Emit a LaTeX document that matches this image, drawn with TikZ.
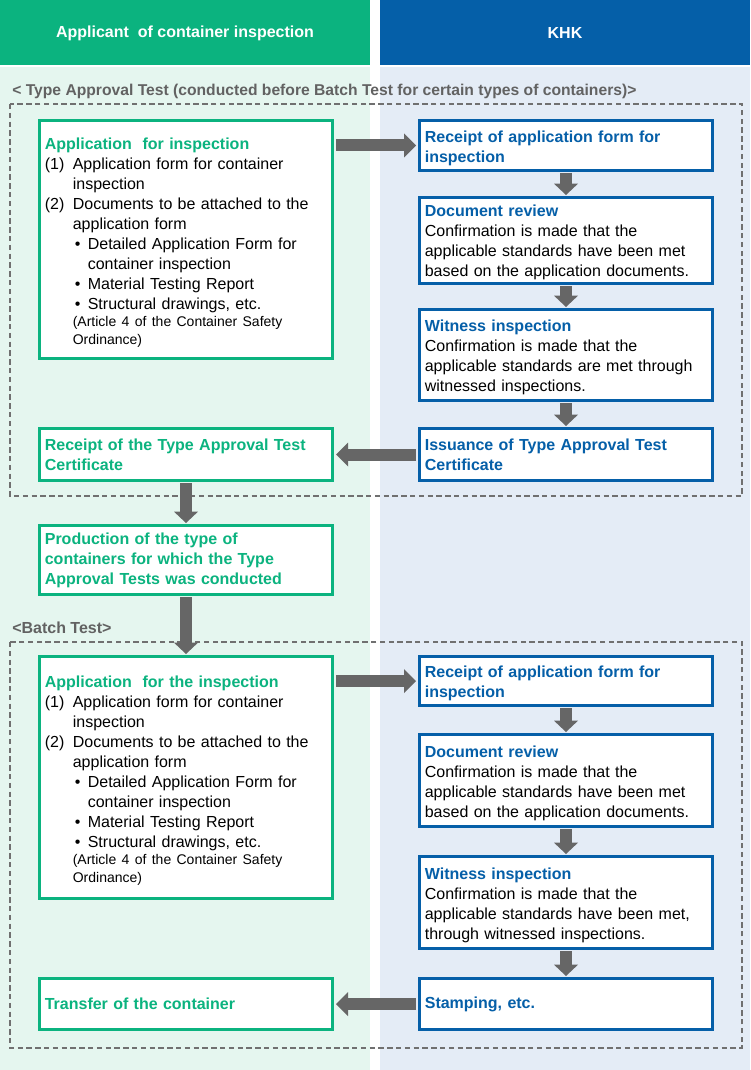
\documentclass[tikz,border=0pt]{standalone}
\usepackage{fontspec}
\setmainfont{Liberation Sans}
\usetikzlibrary{arrows.meta}
\definecolor{hgreen}{HTML}{0BB37F}
\definecolor{hblue}{HTML}{055FA8}
\definecolor{lgreen}{HTML}{E5F6EF}
\definecolor{lblue}{HTML}{E4ECF6}
\definecolor{agray}{HTML}{666666}
\definecolor{dgray}{HTML}{707070}
\definecolor{lgray}{HTML}{626262}
\newcommand\gtitle[1]{{\color{hgreen}\bfseries #1}}
\newcommand\btitle[1]{{\color{hblue}\bfseries #1}}
\newcommand\numitem[1]{\makebox[21pt][l]{#1}}
\newcommand\contind{\hspace*{21pt}}
\newcommand\bulitem{\hspace*{22.5pt}\makebox[9.75pt][l]{\textbullet}}
\newcommand\bulcont{\hspace*{32.25pt}}
\newcommand\applist{%
\numitem{(1)}Application form for container\\
\contind inspection\\
\numitem{(2)}Documents to be attached to the\\
\contind application form\\
\bulitem Detailed Application Form for\\
\bulcont container inspection\\
\bulitem Material Testing Report\\
\bulitem Structural drawings, etc.\par
{\fontsize{10.5}{13}\selectfont\noindent\contind(Article 4 of the Container Safety\\
\contind Ordinance)\par}}
\tikzset{
  box/.style={line width=2.25pt, fill=white, minimum width=219.75pt,
    text width=211.75pt, inner xsep=4pt, inner ysep=0pt, align=left,
    font=\fontsize{12}{15}\selectfont},
  gbox/.style={box, draw=hgreen},
  bbox/.style={box, draw=hblue},
  txtdown/.style={execute at begin node={\rule{0pt}{#1}}},
  blk/.style={draw=agray, line width=9pt,
    -{Triangle[width=18pt,length=9pt,line width=0pt]},
    shorten <=1.5pt, shorten >=1.5pt},
  vblk/.style={draw=agray, line width=9pt,
    -{Triangle[width=18pt,length=8.5pt,line width=0pt]},
    shorten <=0.75pt, shorten >=0.75pt},
  htext/.style={text=white, font=\fontsize{12}{15}\selectfont\bfseries},
  seclabel/.style={text=lgray, anchor=west, inner sep=0pt,
    font=\fontsize{11.75}{15}\selectfont\bfseries},
  dashbox/.style={draw=dgray, line width=1.3pt, dash pattern=on 4pt off 2.6pt}
}
\begin{document}
\begin{tikzpicture}[x=0.75pt,y=-0.75pt]
\useasboundingbox (0,0) rectangle (750,1070);
% column backgrounds
\fill[hgreen] (0,0) rectangle (370,65);
\fill[hblue] (380,0) rectangle (750,65);
\fill[lgreen] (0,67) rectangle (370,1070);
\fill[lblue] (380,67) rectangle (750,1070);
\node[htext] (h1) at (185,33) {Applicant\ \ of container inspection};
\node[htext] (h2) at (565,33) {KHK};
% section frames
\node[seclabel] (s1) at (12,91) {< Type Approval Test (conducted before Batch Test for certain types of containers)>};
\draw[dashbox] (10,104) rectangle (742,496);
\node[seclabel, font=\fontsize{12}{15}\selectfont\bfseries] (s2) at (12,628) {<Batch Test>};
\draw[dashbox] (10,642) rectangle (742,1048);
% type approval test
\node[gbox, txtdown=13.3pt, minimum height=178.5pt] (A1) at (186,239.5) {\gtitle{Application\ \ for inspection}\\ \applist};
\node[bbox, txtdown=13.3pt, minimum height=37.5pt] (R1) at (566,145.5) {\btitle{Receipt of application form for\\ inspection}};
\node[bbox, txtdown=11.8pt, minimum height=64.5pt] (D1) at (566,240.5) {\btitle{Document review}\\
Confirmation is made that the\\ applicable standards have been met\\ based on the application documents.};
\node[bbox, txtdown=11.8pt, minimum height=68.25pt] (W1) at (566,355) {\btitle{Witness inspection}\\
Confirmation is made that the\\ applicable standards are met through\\ witnessed inspections.};
\node[bbox, minimum height=39pt] (I1) at (566,454.5) {\btitle{Issuance of Type Approval Test\\ Certificate}};
\node[gbox, minimum height=39pt] (RC) at (186,454.5) {\gtitle{Receipt of the Type Approval Test\\ Certificate}};
\node[gbox, minimum height=51.75pt] (P) at (186,560) {\gtitle{Production of the type of\\ containers for which the Type\\ Approval Tests was conducted}};
% batch test
\node[gbox, txtdown=13.3pt, minimum height=181.5pt] (A2) at (186,777.5) {\gtitle{Application\ \ for the inspection}\\ \applist};
\node[bbox, txtdown=11.8pt, minimum height=36.75pt] (R2) at (566,681) {\btitle{Receipt of application form for\\ inspection}};
\node[bbox, txtdown=13.3pt, minimum height=69pt] (D2) at (566,780.5) {\btitle{Document review}\\
Confirmation is made that the\\ applicable standards have been met\\ based on the application documents.};
\node[bbox, txtdown=13.3pt, minimum height=69pt] (W2) at (566,902.5) {\btitle{Witness inspection}\\
Confirmation is made that the\\ applicable standards have been met,\\ through witnessed inspections.};
\node[bbox, minimum height=38.25pt] (S) at (566,1004) {\btitle{Stamping, etc.}};
\node[gbox, minimum height=38.25pt] (T) at (186,1004) {\gtitle{Transfer of the container}};
% connectors
\draw[blk] (A1.east |- R1.west) -- (R1.west);
\draw[vblk] (R1.south) -- (D1.north);
\draw[vblk] (D1.south) -- (W1.north);
\draw[vblk] (W1.south) -- (I1.north);
\draw[blk] (I1.west) -- (RC.east);
\draw[vblk] (RC.south) -- (P.north);
\draw[vblk] (P.south) -- (A2.north);
\draw[blk] (A2.east |- R2.west) -- (R2.west);
\draw[vblk] (R2.south) -- (D2.north);
\draw[vblk] (D2.south) -- (W2.north);
\draw[vblk] (W2.south) -- (S.north);
\draw[blk] (S.west) -- (T.east);
\end{tikzpicture}
\end{document}
